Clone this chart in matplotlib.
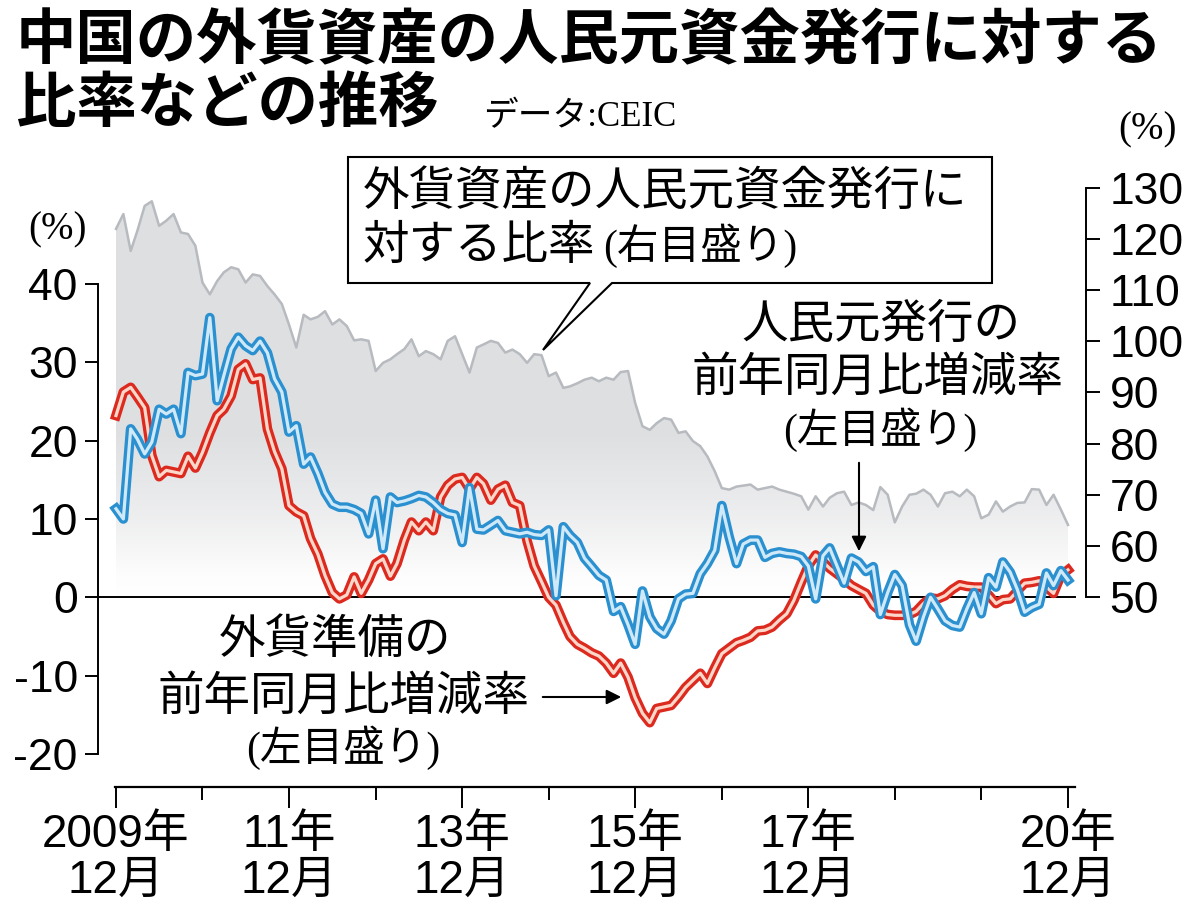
import numpy as np
import pandas as pd
import matplotlib
matplotlib.use("Agg")
import matplotlib.pyplot as plt
import matplotlib.dates as mdates
import matplotlib.patheffects as pe
from matplotlib.patches import Polygon, FancyArrowPatch

plt.rcParams['font.family'] = ['Liberation Sans', 'Noto Sans CJK JP']

# ---------------- data (monthly, 2009-12 .. 2020-12) ----------------
start_month = "2009-12-01"
n_months = 133

# 外貨準備の前年同月比増減率 (%), left axis
reserves_yoy = [
    23.2, 26.2, 26.8, 25.6, 24.2, 18.1, 15.4, 16.2, 16.0, 15.8,
    18.0, 16.5, 18.5, 21.0, 23.2, 24.0, 25.7, 29.1, 29.8, 27.8,
    28.0, 21.5, 18.6, 16.4, 11.7, 10.9, 10.4, 7.5, 5.5, 2.8,
    0.6, -0.2, 0.3, 2.6, 0.5, 2.2, 4.3, 4.9, 2.7, 4.3,
    7.3, 9.6, 8.5, 9.6, 8.5, 12.8, 14.3, 15.1, 15.3, 13.8,
    15.3, 14.5, 12.4, 13.8, 14.3, 12.1, 11.7, 7.2, 4.0, 2.0,
    0.0, -1.0, -3.2, -5.0, -6.0, -6.5, -7.1, -7.5, -8.4, -9.7,
    -8.4, -10.2, -12.8, -14.8, -16.0, -14.2, -14.0, -13.8, -12.7, -11.5,
    -10.6, -9.7, -11.0, -9.0, -7.2, -6.5, -5.8, -5.5, -5.1, -4.3,
    -4.2, -3.8, -2.9, -2.1, -0.4, 1.9, 4.0, 5.4, 4.5, 3.7,
    3.0, 2.3, 1.5, 1.0, 0.5, -1.0, -1.8, -2.2, -2.3, -2.3,
    -2.2, -1.8, -0.8, -0.1, -0.2, 0.2, 1.0, 1.6, 1.4, 1.3,
    1.3, 0.3, -0.8, -0.3, -0.2, 0.8, 1.8, 1.9, 2.1, 1.3,
    0.5, 2.8, 3.5,
]

# 人民元発行の前年同月比増減率 (%), left axis
rmb_issue_yoy = [
    11.3, 10.0, 21.5, 20.2, 18.3, 19.8, 24.0, 23.4, 24.0, 20.9,
    28.7, 28.3, 28.5, 35.7, 25.1, 28.3, 31.7, 33.2, 32.1, 31.5,
    32.7, 31.2, 27.9, 26.2, 21.1, 21.9, 17.0, 17.9, 15.8, 13.4,
    11.9, 11.5, 11.5, 11.2, 10.7, 8.1, 12.4, 6.2, 12.8, 12.1,
    12.3, 12.6, 13.0, 12.8, 12.1, 11.2, 10.7, 10.5, 7.0, 14.0,
    8.7, 8.6, 9.2, 9.8, 8.5, 8.3, 8.1, 8.3, 8.0, 7.9,
    8.6, 0.2, 9.0, 7.9, 7.0, 5.0, 3.9, 2.8, 2.2, -1.8,
    -1.2, -3.5, -6.0, 0.8, -2.5, -4.0, -4.7, -3.0, -0.2, 0.4,
    0.5, 3.0, 4.3, 6.0, 11.7, 7.7, 4.3, 6.8, 7.3, 7.3,
    5.1, 5.6, 5.8, 5.6, 5.5, 5.2, 4.0, -0.2, 5.3, 6.3,
    4.0, 1.8, 5.0, 4.5, 3.3, 3.9, -2.2, 0.6, 2.9, 1.5,
    -3.5, -5.6, -2.5, 0.0, -1.5, -3.0, -3.6, -3.8, -1.5, 0.6,
    -2.1, 2.5, 1.3, 4.5, 3.2, 1.0, -1.9, -1.3, -0.9, 3.1,
    1.5, 3.4, 2.2,
]

# 外貨資産の人民元資金発行に対する比率 (%), right axis
fx_asset_ratio = [
    122.0, 124.9, 117.7, 121.6, 126.5, 127.4, 122.6, 123.6, 124.9, 121.3,
    121.0, 118.7, 111.5, 109.2, 111.8, 113.5, 114.5, 114.1, 111.5, 113.1,
    112.8, 110.8, 109.2, 107.3, 103.3, 98.8, 105.2, 104.3, 104.8, 105.9,
    103.3, 104.3, 103.0, 100.2, 100.4, 100.1, 94.2, 95.8, 96.5, 97.5,
    98.5, 100.4, 97.1, 98.1, 97.5, 96.5, 100.1, 101.0, 97.5, 93.9,
    98.8, 99.4, 100.1, 99.7, 97.8, 98.4, 97.5, 95.8, 97.5, 97.3,
    93.2, 93.9, 90.9, 91.2, 91.8, 92.5, 92.9, 92.2, 92.9, 92.5,
    94.0, 94.2, 88.0, 83.4, 82.7, 84.0, 85.0, 84.7, 82.1, 82.4,
    80.5, 79.5, 77.5, 74.6, 71.3, 71.0, 71.6, 71.8, 72.0, 71.0,
    71.3, 71.6, 71.0, 70.6, 70.2, 69.7, 67.1, 69.7, 67.7, 69.4,
    70.3, 70.6, 68.0, 68.5, 68.0, 67.0, 71.5, 70.0, 64.6, 67.7,
    70.0, 70.2, 71.0, 70.0, 67.7, 70.3, 70.6, 69.7, 71.0, 69.7,
    65.4, 66.1, 68.7, 66.7, 67.7, 68.4, 68.5, 71.1, 71.0, 68.0,
    70.0, 67.1, 64.1,
]

left_ticks = [-20, -10, 0, 10, 20, 30, 40]
right_ticks = [50, 60, 70, 80, 90, 100, 110, 120, 130]
labelled_years = [2009, 2011, 2013, 2015, 2017, 2020]
x_labels = ["2009年\n12月", "11年\n12月", "13年\n12月", "15年\n12月", "17年\n12月", "20年\n12月"]
minor_years = [2010, 2012, 2014, 2016, 2018, 2019]

# ---------------- figure ----------------
W, H = 1200, 919
fig = plt.figure(figsize=(W / 100, H / 100), dpi=100)


def fx(x):
    return x / W


def fy(y):
    return 1 - y / H


ax = fig.add_axes([fx(98), fy(787), fx(1086) - fx(98), fy(150) - fy(787)])
ax2 = ax.twinx()
ax.set_zorder(ax2.get_zorder() + 1)
ax.patch.set_visible(False)

dates = pd.date_range(start_month, periods=n_months, freq="MS")
xs = mdates.date2num(dates.to_pydatetime())
d0 = xs[0]

# gray area with vertical gradient (right axis)
xlim = (d0 - 76, d0 + 4094)
yl2 = (12.84, 137.43)
fill = ax2.fill_between(xs, fx_asset_ratio, 50, facecolor="none", edgecolor="none")
yy = np.linspace(50, 135, 400)
t = np.interp(yy, [50, 54, 66, 82, 135], [0.0, 0.06, 0.55, 1.0, 1.0])
base = np.array([0.872, 0.876, 0.884])
img = 1 - t[:, None] * (1 - base[None, :])
img = img[:, None, :]
im = ax2.imshow(img, extent=[xs[0], xs[-1], 50, 135], origin="lower",
                aspect="auto", zorder=1, interpolation="bilinear")
im.set_clip_path(fill.get_paths()[0], transform=ax2.transData)
ax2.plot(xs, fx_asset_ratio, color="#b7babe", lw=1.8, zorder=2,
         solid_joinstyle="round")

# zero line
ax.axhline(0, xmin=0, xmax=(1075 - 98) / (1086 - 98), color="black", lw=1.4, zorder=2)

# red: foreign reserves YoY
ax.plot(xs, reserves_yoy, color="#fdd8ca", lw=2.3, zorder=3, solid_joinstyle="round",
        path_effects=[pe.Stroke(linewidth=7.0, foreground="#dc2a1f"), pe.Normal()])
# blue: RMB issuance YoY
ax.plot(xs, rmb_issue_yoy, color="#cfe9f8", lw=2.3, zorder=4, solid_joinstyle="round",
        path_effects=[pe.Stroke(linewidth=7.0, foreground="#2a90d0"), pe.Normal()])

ax.set_xlim(*xlim)
ax.set_ylim(-24.22, 57.1)
ax2.set_ylim(*yl2)
ax2.set_xlim(*xlim)

# spines
for s in ["top", "right"]:
    ax.spines[s].set_visible(False)
for s in ["top", "left", "bottom"]:
    ax2.spines[s].set_visible(False)
ax.spines["left"].set_bounds(-20, 40)
ax.spines["left"].set_linewidth(1.4)
ax.spines["bottom"].set_bounds(d0 - 4, d0 + 4048)
ax.spines["bottom"].set_linewidth(1.6)
ax2.spines["right"].set_bounds(50, 130)
ax2.spines["right"].set_linewidth(1.4)

# y ticks
ax.set_yticks(left_ticks)
ax.set_yticklabels([str(v) for v in left_ticks])
ax.tick_params(axis="y", direction="out", length=9.5, width=1.4, pad=5, labelsize=32)
ax2.set_yticks(right_ticks)
ax2.set_yticklabels([str(v) for v in right_ticks])
ax2.tick_params(axis="y", direction="out", length=10, width=1.4, pad=7, labelsize=32)

# x ticks
major_x = [mdates.date2num(pd.Timestamp(f"{y}-12-01").to_pydatetime()) for y in labelled_years]
minor_x = [mdates.date2num(pd.Timestamp(f"{y}-12-01").to_pydatetime()) for y in minor_years]
ax.set_xticks(major_x)
ax.set_xticklabels(x_labels)
ax.set_xticks(minor_x, minor=True)
ax.tick_params(axis="x", which="major", direction="out", length=15, width=1.4, pad=4, labelsize=33)
ax.tick_params(axis="x", which="minor", direction="out", length=9, width=1.4)
for lab in ax.get_xticklabels():
    lab.set_linespacing(1.05)

# ---------------- texts ----------------
jp = "Noto Sans CJK JP"
mix = ["Liberation Serif", "Noto Sans CJK JP"]
fig.text(fx(16), fy(42), "中国の外貨資産の人民元資金発行に対する", fontsize=43.5,
         fontweight="bold", family=jp, va="center", ha="left")
fig.text(fx(16), fy(104), "比率などの推移", fontsize=43.5,
         fontweight="bold", family=jp, va="center", ha="left")
fig.text(fx(483), fy(118), "データ:CEIC", fontsize=25, family=mix, va="center", ha="left")

fig.text(fx(58), fy(230), "(%)", fontsize=28, family=mix, va="center", ha="center")
fig.text(fx(1148), fy(130), "(%)", fontsize=28, family=mix, va="center", ha="center")

# callout box with tail
box_pts = [(348, 157), (992, 157), (992, 283), (612, 283), (543, 350), (590, 283), (348, 283)]
fig.add_artist(Polygon([(fx(x), fy(y)) for x, y in box_pts], closed=True,
                       transform=fig.transFigure, facecolor="white",
                       edgecolor="black", lw=1.5, zorder=5))
fig.text(fx(363), fy(192), "外貨資産の人民元資金発行に", fontsize=33.5, family=jp,
         va="center", ha="left", zorder=6)
fig.text(fx(363), fy(246), "対する比率", fontsize=33.5, family=jp,
         va="center", ha="left", zorder=6)
fig.text(fx(603), fy(246), "(右目盛り)", fontsize=30, family=mix,
         va="center", ha="left", zorder=6)

# RMB issuance label
fig.text(fx(881), fy(325), "人民元発行の", fontsize=33.5, family=jp, va="center", ha="center")
fig.text(fx(877), fy(378), "前年同月比増減率", fontsize=33.5, family=jp, va="center", ha="center")
fig.text(fx(880), fy(430), "(左目盛り)", fontsize=30, family=mix, va="center", ha="center")
fig.add_artist(FancyArrowPatch((fx(859), fy(460)), (fx(859), fy(554)),
                               transform=fig.transFigure, arrowstyle="-|>",
                               mutation_scale=22, lw=1.5, color="black", zorder=6))

# reserves label
fig.text(fx(335), fy(640), "外貨準備の", fontsize=33.5, family=jp, va="center", ha="center")
fig.text(fx(343), fy(697), "前年同月比増減率", fontsize=33.5, family=jp, va="center", ha="center")
fig.text(fx(343), fy(748), "(左目盛り)", fontsize=30, family=mix, va="center", ha="center")
fig.add_artist(FancyArrowPatch((fx(540), fy(697)), (fx(624), fy(697)),
                               transform=fig.transFigure, arrowstyle="-|>",
                               mutation_scale=22, lw=1.5, color="black", zorder=6))

fig.savefig("out.png", dpi=100)
